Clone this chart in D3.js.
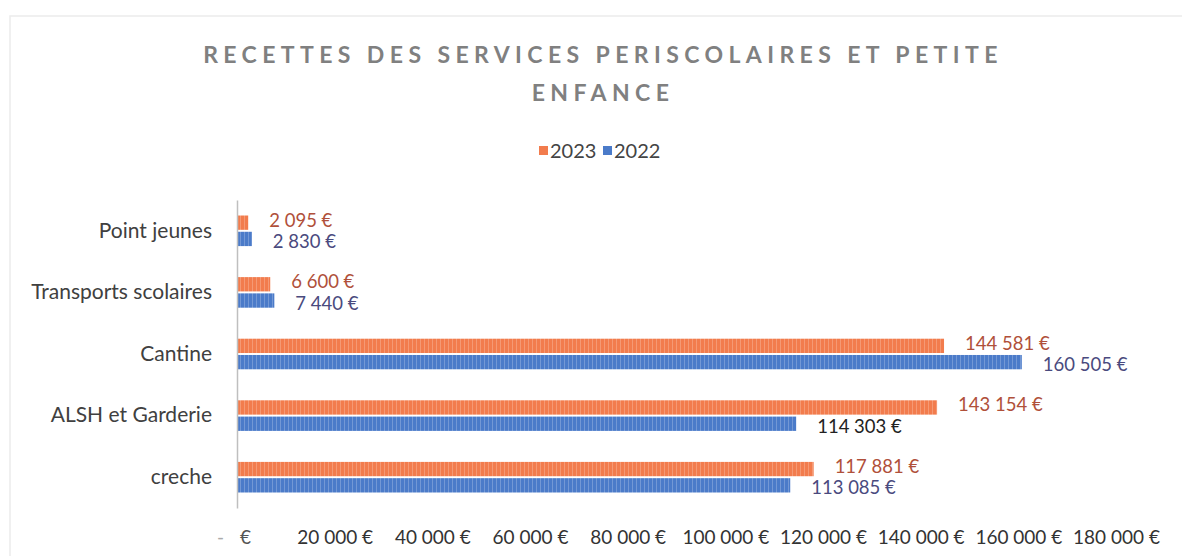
<!DOCTYPE html>
<html>
<head>
<meta charset="utf-8">
<script src="https://cdn.jsdelivr.net/npm/d3@7"></script>
<style>
  body { margin: 0; background: #fff; }
  svg { font-family: Lato, "Open Sans", sans-serif; }
</style>
</head>
<body>
<div id="chart"></div>
<script>
const categories = ['Point jeunes', 'Transports scolaires', 'Cantine', 'ALSH et Garderie', 'creche'];
const series = ['2023', '2022'];
const values2023 = [2095, 6600, 144581, 143154, 117881];
const values2022 = [2830, 7440, 160505, 114303, 113085];
const tickValues = [0, 20000, 40000, 60000, 80000, 100000, 120000, 140000, 160000, 180000];

const width = 1182, height = 556;
const margin = { top: 200, right: 66, bottom: 46, left: 237 };
const colors = { '2023': '#f27c4d', '2022': '#4b7bc9' };
const labelColors = { '2023': '#b0503a', '2022': '#4a4a7e' };

const svg = d3.select('#chart').append('svg')
  .attr('width', width)
  .attr('height', height);

// faint frame of the chart area
svg.append('path')
  .attr('d', `M10,${height} V16 H${width}`)
  .attr('fill', 'none')
  .attr('stroke', '#ececec')
  .attr('stroke-width', 1.5);

// striped texture like the scanned bars
const defs = svg.append('defs');
series.forEach(s => {
  const p = defs.append('pattern')
    .attr('id', 'stripe' + s)
    .attr('width', 4).attr('height', 4)
    .attr('patternUnits', 'userSpaceOnUse');
  p.append('rect').attr('width', 4).attr('height', 4).attr('fill', colors[s]);
  p.append('rect').attr('x', 3).attr('width', 1).attr('height', 4)
    .attr('fill', '#fff').attr('opacity', 0.22);
});

const innerW = width - margin.left - margin.right;
const innerH = height - margin.top - margin.bottom;

const x = d3.scaleLinear().domain([0, 180000]).range([0, innerW]);
const y = d3.scaleBand().domain(categories).range([0, innerH - 2]);
const ySub = d3.scaleBand().domain(series).range([y.bandwidth() * 0.22, y.bandwidth() * 0.78]).padding(0.12);

const g = svg.append('g').attr('transform', `translate(${margin.left},${margin.top})`);

// title
const titleLines = ['RECETTES DES SERVICES PERISCOLAIRES ET PETITE', 'ENFANCE'];
svg.selectAll('.title').data(titleLines).enter().append('text')
  .attr('class', 'title')
  .attr('x', 603).attr('y', (d, i) => 63 + i * 38)
  .attr('text-anchor', 'middle')
  .attr('fill', '#808080')
  .attr('font-size', 23)
  .attr('font-weight', 'bold')
  .attr('letter-spacing', 5.4)
  .text(d => d);

// legend
const legend = svg.append('g').attr('transform', 'translate(539,151)');
series.forEach((s, i) => {
  const lg = legend.append('g').attr('transform', `translate(${i * 64},0)`);
  lg.append('rect').attr('x', 0).attr('y', -5).attr('width', 9).attr('height', 9).attr('fill', colors[s]);
  lg.append('text').attr('x', 11).attr('y', 0).attr('dy', '0.35em')
    .attr('font-size', 20).attr('fill', '#444').text(s);
});

const rows = categories.map((c, i) => ({ cat: c, '2023': values2023[i], '2022': values2022[i] }));

// bars
const groups = g.selectAll('.row').data(rows).enter().append('g')
  .attr('class', 'row')
  .attr('transform', d => `translate(0,${y(d.cat)})`);

groups.selectAll('rect').data(d => series.map(s => ({ s, v: d[s] }))).enter().append('rect')
  .attr('x', 1)
  .attr('y', d => ySub(d.s))
  .attr('width', d => x(d.v))
  .attr('height', ySub.bandwidth())
  .attr('fill', d => `url(#stripe${d.s})`);

groups.selectAll('.lbl').data(d => series.map(s => ({ s, v: d[s], cat: d.cat }))).enter().append('text')
  .attr('class', 'lbl')
  .attr('x', d => x(d.v) + 22)
  .attr('y', d => ySub(d.s) + ySub.bandwidth() / 2 + (d.s === '2023' ? -2.5 : 2.5))
  .attr('dy', '0.35em')
  .attr('font-size', 18.5)
  .attr('fill', d => (d.cat === 'ALSH et Garderie' && d.s === '2022') ? '#222' : labelColors[d.s])
  .text(d => d3.format(',')(d.v).replace(/,/g, ' ') + ' €');

// category axis
const yAxis = g.append('g').call(d3.axisLeft(y).tickSize(0).tickPadding(25));
yAxis.select('.domain').attr('stroke', '#bfbfbf').attr('stroke-width', 1.5);
yAxis.selectAll('text').attr('font-size', 21).attr('fill', '#404040').attr('font-family', 'Lato, sans-serif');

// value axis labels
const fmt = v => v === 0 ? '' : d3.format(',')(v).replace(/,/g, ' ') + ' €';
const xAxis = g.append('g').attr('transform', `translate(0,${innerH})`)
  .call(d3.axisBottom(x).tickValues(tickValues).tickSize(0).tickPadding(21).tickFormat(fmt));
xAxis.select('.domain').remove();
xAxis.selectAll('text').attr('font-size', 19).attr('fill', '#333').attr('font-family', 'Lato, sans-serif');
// zero tick shown as "-   €" in accounting style
const zeroText = xAxis.selectAll('.tick').filter(d => d === 0).select('text').attr('fill', '#555');
zeroText.append('tspan').attr('x', -17).attr('fill', '#aaa').text('-');
zeroText.append('tspan').attr('x', 8).text('€');
</script>
</body>
</html>
